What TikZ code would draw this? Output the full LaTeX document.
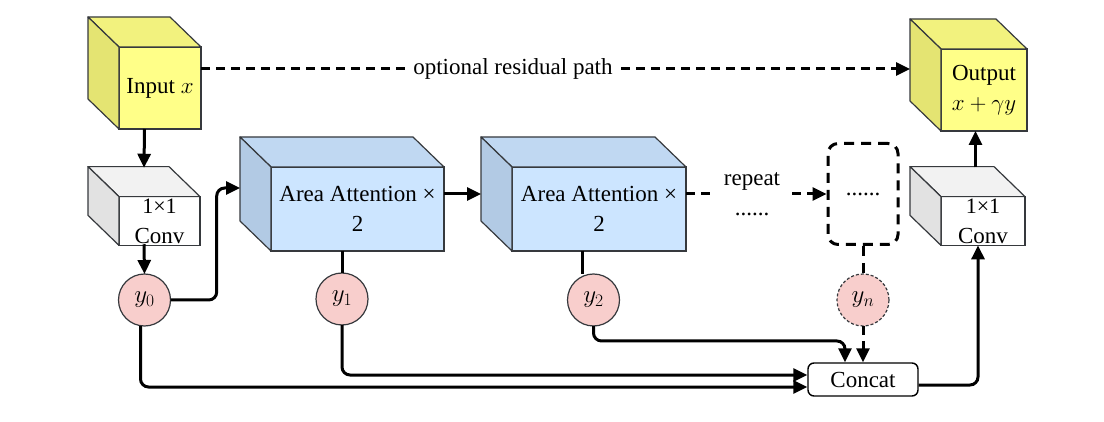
\documentclass[tikz,border=0pt]{standalone}
\usepackage{fix-cm}
\usepackage{fontspec}
\setmainfont{Liberation Serif}
\usetikzlibrary{calc,arrows.meta}
\definecolor{yfront}{HTML}{FFFF88}
\definecolor{ytop}{HTML}{F2F27E}
\definecolor{yside}{HTML}{E4E472}
\definecolor{bfront}{HTML}{CCE5FF}
\definecolor{btop}{HTML}{C0D8F2}
\definecolor{bside}{HTML}{B2CAE4}
\definecolor{gfront}{HTML}{FFFFFF}
\definecolor{gtop}{HTML}{F2F2F2}
\definecolor{gside}{HTML}{E2E2E2}
\definecolor{pinkc}{HTML}{F8CECC}
\definecolor{edgec}{HTML}{36393D}
\tikzset{
  cubefront/.style={draw=edgec, line width=1.2pt, inner sep=2pt, outer sep=0pt, align=center},
  cubeedge/.style={draw=edgec, line width=1.2pt, line join=round},
  ycirc/.style={circle, draw=edgec, line width=1.2pt, fill=pinkc, minimum size=52pt, inner sep=0pt, outer sep=0pt, font=\fontsize{25}{30}\selectfont},
  arr/.style={line width=3pt, -{Triangle[length=14pt,width=13pt]}, rounded corners=8pt},
  plainline/.style={line width=3pt, rounded corners=8pt},
  dasharr/.style={line width=3pt, dash pattern=on 9pt off 6pt, -{Triangle[length=14pt,width=13pt]}},
  dashline/.style={line width=3pt, dash pattern=on 9pt off 6pt},
  txt/.style={font=\fontsize{23}{30}\selectfont},
}
\newcommand\mycube[9]{%
  \node[cubefront, fill=#6, minimum width=#4, minimum height=#5] (#1) at (#2,#3) {#9};
  \draw[cubeedge, fill=#7] (#1.north west) -- ++(-31,-30) -- ($(#1.north east)+(-31,-30)$) -- (#1.north east) -- cycle;
  \draw[cubeedge, fill=#8] (#1.north west) -- ++(-31,-30) -- ($(#1.south west)+(-31,-30)$) -- (#1.south west) -- cycle;
  \node[inner sep=0pt, outer sep=0pt, minimum width=#4+31, minimum height=#5+30] (#1-all) at ($(#1.center)+(-15.5,-15)$) {};
}
\begin{document}
\begin{tikzpicture}[x=1pt,y=-1pt, txt]
\useasboundingbox (0,0) rectangle (1104,422);
% cubes
\mycube{inp}{160}{88}{82}{82}{yfront}{ytop}{yside}{Input $x$}
\mycube{conva}{159.5}{221}{81}{46.5}{gfront}{gtop}{gside}{\fontsize{22}{27}\selectfont 1×1\\Conv}
\mycube{aaa}{357.5}{209}{173}{84}{bfront}{btop}{bside}{Area Attention ×\\2}
\mycube{aab}{599}{209}{174}{84}{bfront}{btop}{bside}{Area Attention ×\\2}
\mycube{convb}{983}{221}{84}{47}{gfront}{gtop}{gside}{\fontsize{22}{27}\selectfont 1×1\\Conv}
\mycube{out}{984}{90}{86}{82}{yfront}{ytop}{yside}{\raisebox{0pt}[\height][0pt]{}Output\\$x+\gamma y$}
% dashed box and repeat
\node[draw, line width=3pt, dash pattern=on 10pt off 7pt, rounded corners=10pt, minimum width=70pt, minimum height=101pt, inner sep=0pt] (dbox) at (863,194) {......};
\node[align=center, inner xsep=12pt, inner ysep=2pt] (rep) at (752,194) {repeat\\......};
% circles
\node[ycirc] (ya) at (144.5,300) {$y_0$};
\node[ycirc] (yb) at (342,299) {$y_1$};
\node[ycirc] (yc) at (593.5,300) {$y_2$};
\node[ycirc, dash pattern=on 3pt off 2pt] (yn) at (863,300) {$y_n$};
% concat
\node[draw=black, line width=1.4pt, rounded corners=6pt, minimum width=110pt, minimum height=33pt, inner sep=0pt] (concat) at (863,379.5) {Concat};
% residual
\coordinate (rs) at ($(inp.east)+(0,-19)$);
\draw[dasharr] (rs) -- node[pos=0.44, fill=white, inner xsep=4pt, inner ysep=6pt] (restxt) {optional residual path} (rs -| out-all.west);
% main chain
\draw[arr] (inp-all.south) -- (conva-all.north);
\draw[arr] (conva-all.south) -- (ya.north);
\coordinate (ja) at (216.7,188);
\draw[arr] (ya.east) -| (ja) -- (ja -| aaa-all.west);
\coordinate (a1e) at (aaa.east |- aaa-all.center);
\draw[arr] (a1e) -- (a1e -| aab-all.west);
\draw[plainline] (yb.north |- aaa.south) -- (yb.north);
\coordinate (a2b) at (582,251);
\draw[plainline] (a2b) -- (a2b |- yc.north);
\coordinate (a2e) at (aab.east |- aab-all.center);
\draw[dasharr] (a2e) -- (rep) -- (dbox.west);
\draw[dashline, dash pattern=on 10pt off 7pt] (dbox.south) -- (yn.north);
\draw[dasharr] (yn.south) -- (concat.north);
\coordinate (jc) at (845,341);
\draw[arr] (yc.south) |- (jc) -- (jc |- concat.north);
\coordinate (cb) at ($(concat.west)+(0,-4.5)$);
\draw[arr] (yb.south) |- (cb);
\coordinate (ca) at ($(concat.west)+(0,7.5)$);
\coordinate (yas) at ($(ya.south)+(-4,0)$);
\draw[arr] (yas) |- (ca);
\coordinate (ce) at ($(concat.east)+(0,5.5)$);
\draw[arr] (ce) -| ($(convb.south)+(-5,0)$);
\coordinate (c2t) at ($(convb-all.north)+(8,0)$);
\draw[arr] (c2t) -- (c2t |- out.south);
\end{tikzpicture}
\end{document}
